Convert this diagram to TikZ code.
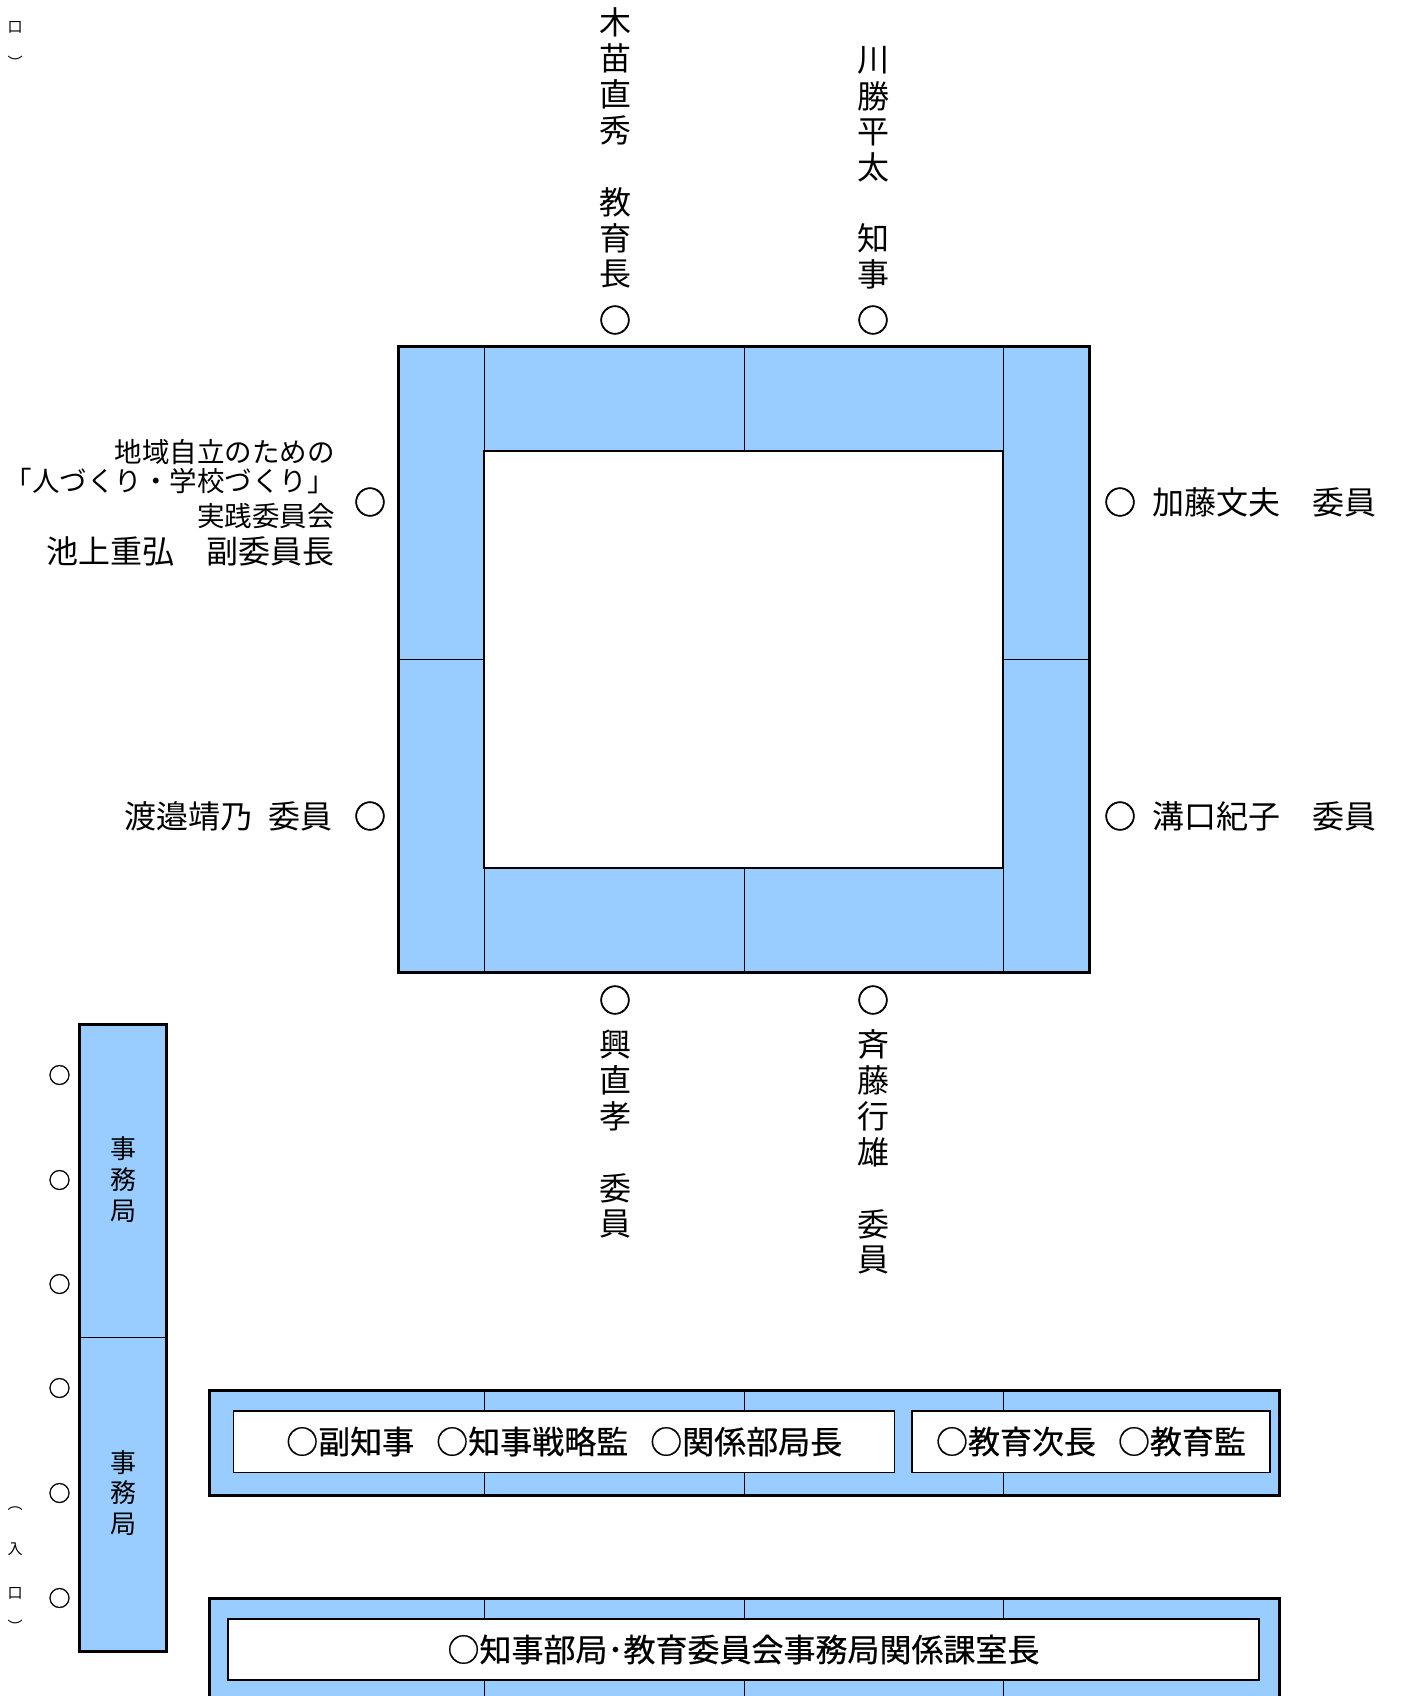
\documentclass[tikz,border=0pt]{standalone}
\usepackage{fontspec}
\newfontfamily\jp{Noto Sans CJK JP}
\newfontfamily\jpbox[FakeBold=0.6]{Noto Sans CJK JP}
\newfontfamily\jpring[FakeBold=1.6]{Noto Sans CJK JP}
\definecolor{cellblue}{HTML}{99CCFF}
\newcommand{\ring}{{\jpring ○}}
\begin{document}
\begin{tikzpicture}[x=1pt,y=-1pt,
  big/.style={font=\jp\fontsize{32}{36}\selectfont, inner sep=0pt},
  small/.style={font=\jp\fontsize{27.5}{30}\selectfont, inner sep=0pt},
  mid/.style={font=\jp\fontsize{26}{30}\selectfont, inner sep=0pt},
  circmark/.style={font=\jp\fontsize{22}{26}\selectfont, inner sep=0pt},
  tiny/.style={font=\jp\fontsize{15}{16}\selectfont, inner sep=0pt},
  frame/.style={draw=black, line width=3pt},
  thinline/.style={draw=black, line width=0.9pt},
  wbox/.style={draw=black, line width=1.5pt, fill=white, inner sep=0pt,
    font=\jpbox\fontsize{32}{36}\selectfont},
]
\useasboundingbox (0,0) rectangle (1400,1696);

% ---------- main table ----------
\fill[cellblue] (398,346) rectangle (1089,972);
\foreach \x in {484,744,1003} \draw[thinline] (\x,346) -- (\x,972);
\draw[thinline] (398,659) -- (484,659);
\draw[thinline] (1003,659) -- (1089,659);
\draw[frame] (398,346) rectangle (1089,972);
\draw[line width=2.5pt, fill=white] (484,451) rectangle (1003,868);

% ---------- top vertical names ----------
\foreach \c/\yy [count=\i] in {木/22,苗/58,直/94,秀/130,教/202,育/238,長/274}
  \node[big] (ta\i) at (615,\yy) {\c};
\node[big] (tac) at (615,320) {\ring};
\foreach \c/\yy [count=\i] in {川/60,勝/96,平/132,太/167,知/238,事/274}
  \node[big] (tb\i) at (873,\yy) {\c};
\node[big] (tbc) at (873,320) {\ring};

% ---------- bottom vertical names ----------
\node[big] (bac) at (615,1000) {\ring};
\foreach \c/\yy [count=\i] in {興/1044,直/1080,孝/1116,委/1188,員/1224}
  \node[big] (ba\i) at (615,\yy) {\c};
\node[big] (bbc) at (873,1000) {\ring};
\foreach \c/\yy [count=\i] in {斉/1044,藤/1080,行/1116,雄/1152,委/1224,員/1260}
  \node[big] (bb\i) at (873,\yy) {\c};

% ---------- left side ----------
\node[small, anchor=east] (l1) at (335,452) {地域自立のための};
\node[small, anchor=east] (l2) at (335,481) {「人づくり・学校づくり」};
\node[small, anchor=east] (l3) at (335,516) {実践委員会};
\node[big, anchor=east] (l4) at (335,551) {池上重弘　副委員長};
\node[big] (lc1) at (370,502) {\ring};
\node[big, anchor=east] (l5) at (333,816) {渡邉靖乃\hspace{16pt}委員};
\node[big] (lc2) at (370,816) {\ring};

% ---------- right side ----------
\node[big] (rc1) at (1120,502) {\ring};
\node[big, anchor=west] (r1) at (1152,502) {加藤文夫　委員};
\node[big] (rc2) at (1120,816) {\ring};
\node[big, anchor=west] (r2) at (1152,816) {溝口紀子　委員};

% ---------- edge labels ----------
\node[tiny] (e1) at (15,27) {口};
\node[tiny] (e2) at (15,62) {︶};
\node[tiny] (e3) at (15,1509) {︵};
\node[tiny] (e4) at (15,1549) {入};
\node[tiny] (e5) at (15,1593) {口};
\node[tiny] (e6) at (15,1626) {︶};

% ---------- secretariat column ----------
\fill[cellblue] (79,1024) rectangle (166,1651);
\draw[thinline] (79,1337) -- (166,1337);
\draw[frame] (79,1024) rectangle (166,1651);
\foreach \c/\yy [count=\i] in {事/1149,務/1180,局/1211}
  \node[mid] (ja\i) at (123,\yy) {\c};
\foreach \c/\yy [count=\i] in {事/1463,務/1493,局/1524}
  \node[mid] (jb\i) at (123,\yy) {\c};
\foreach \yy [count=\i] in {1075,1180,1284,1388,1493,1598}
  \node[circmark] (sm\i) at (59.5,\yy) {\ring};

% ---------- row 1 ----------
\fill[cellblue] (209,1390) rectangle (1279,1495);
\foreach \x in {484,744,1003} \draw[thinline] (\x,1390) -- (\x,1495);
\draw[frame] (209,1390) rectangle (1279,1495);
\node[wbox, minimum width=661pt, minimum height=61.5pt] (b1) at (564.2,1441.5)
  {○副知事\hspace{22pt}○知事戦略監\hspace{22pt}○関係部局長};
\node[wbox, minimum width=358pt, minimum height=61.5pt] (b2) at (1091,1441.5)
  {○教育次長\hspace{22pt}○教育監};

% ---------- row 2 ----------
\fill[cellblue] (209,1598) rectangle (1279,1720);
\foreach \x in {484,744,1003} \draw[thinline] (\x,1598) -- (\x,1720);
\draw[frame] (209,1598) rectangle (1279,1720);
\node[wbox, minimum width=1031pt, minimum height=61pt] (b3) at (743.5,1649.5)
  {○知事部局･教育委員会事務局関係課室長};
\end{tikzpicture}
\end{document}
